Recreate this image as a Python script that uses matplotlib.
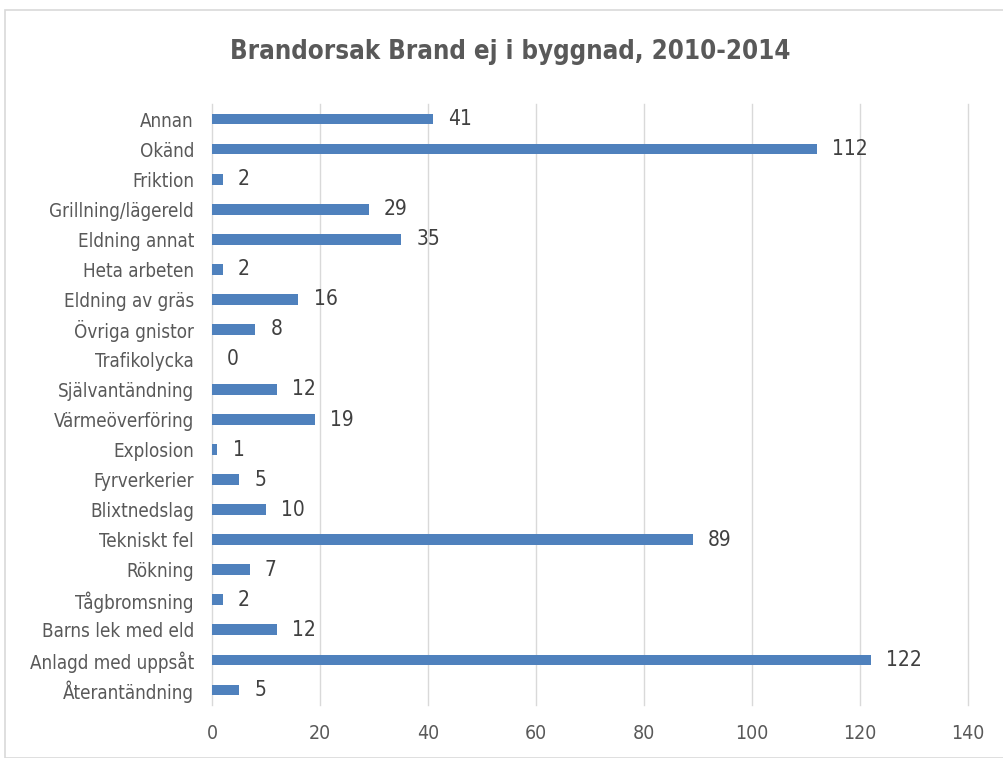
import matplotlib.pyplot as plt
from matplotlib.patches import Rectangle

categories = ['Annan', 'Okänd', 'Friktion', 'Grillning/lägereld', 'Eldning annat',
              'Heta arbeten', 'Eldning av gräs', 'Övriga gnistor', 'Trafikolycka',
              'Självantändning', 'Värmeöverföring', 'Explosion', 'Fyrverkerier',
              'Blixtnedslag', 'Tekniskt fel', 'Rökning', 'Tågbromsning',
              'Barns lek med eld', 'Anlagd med uppsåt', 'Återantändning']
values = [41, 112, 2, 29, 35, 2, 16, 8, 0, 12, 19, 1, 5, 10, 89, 7, 2, 12, 122, 5]
x_ticks = [0, 20, 40, 60, 80, 100, 120, 140]

plt.rcParams['font.family'] = ['DejaVu Sans']
plt.rcParams['font.stretch'] = 'condensed'

text_color = '#595959'
bar_color = '#4f81bd'

fig = plt.figure(figsize=(10.04, 7.58), dpi=100)
ax = fig.add_axes([0.2112, 0.0699, 0.7529, 0.7929])

# chart border
fig.patches.append(Rectangle((5 / 1004, 0), 1.0, 1 - 10 / 758, transform=fig.transFigure,
                             fill=False, edgecolor='#d9d9d9', linewidth=1.2))

n = len(categories)
pos = list(range(n))[::-1]
ax.barh(pos, values, height=0.36, color=bar_color, zorder=3)
for p, v in zip(pos, values):
    ax.text(v + 2.8, p, str(v), va='center', ha='left', fontsize=15,
            color='#404040')

ax.set_xlim(0, 140)
ax.set_ylim(-0.5, n - 0.5)
ax.set_xticks(x_ticks)
ax.set_yticks(pos)
ax.set_yticklabels(categories)
ax.tick_params(axis='y', length=0, pad=13, labelsize=13.5, labelcolor=text_color)
ax.tick_params(axis='x', length=0, pad=14, labelsize=14, labelcolor=text_color)
ax.grid(axis='x', color='#d9d9d9', linewidth=1, zorder=0)
for line in ax.get_xgridlines():
    line.set_clip_on(False)
for s in ax.spines.values():
    s.set_visible(False)

fig.text(510 / 1004, 1 - 52 / 758, 'Brandorsak Brand ej i byggnad, 2010-2014', ha='center',
         va='center', fontsize=18.5, fontweight='bold', color=text_color)

fig.savefig('out.png', dpi=100)
